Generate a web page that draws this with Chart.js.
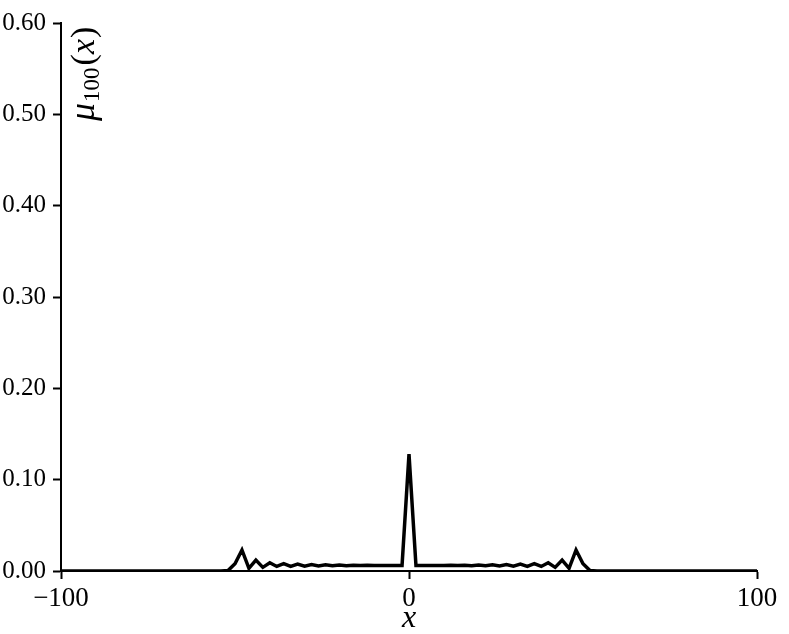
<!DOCTYPE html>
<html lang="en">
<head>
    <meta charset="UTF-8">
    <title>mu_100(x)</title>
    <script src="https://cdn.jsdelivr.net/npm/chart.js"></script>
    <style>
        body {
            margin: 0;
            background: #fff;
        }
        canvas {
            display: block;
        }
    </style>
</head>
<body>
    <canvas id="walkChart" width="789" height="634"></canvas>
    <script>
        // positions on the line (even sites only at t = 100)
        const positions = [
            -100, -98, -96, -94, -92, -90, -88, -86, -84, -82,
            -80, -78, -76, -74, -72, -70, -68, -66, -64, -62,
            -60, -58, -56, -54, -52, -50, -48, -46, -44, -42,
            -40, -38, -36, -34, -32, -30, -28, -26, -24, -22,
            -20, -18, -16, -14, -12, -10, -8, -6, -4, -2,
            0,
            2, 4, 6, 8, 10, 12, 14, 16, 18, 20,
            22, 24, 26, 28, 30, 32, 34, 36, 38, 40,
            42, 44, 46, 48, 50, 52, 54, 56, 58, 60,
            62, 64, 66, 68, 70, 72, 74, 76, 78, 80,
            82, 84, 86, 88, 90, 92, 94, 96, 98, 100
        ];

        // probability
        const probs = [
            0, 0, 0, 0, 0, 0, 0, 0, 0, 0,
            0, 0, 0, 0, 0, 0, 0, 0, 0, 0,
            0, 0, 0, 0, 0.0005, 0.008, 0.023, 0.003, 0.012, 0.004,
            0.009, 0.005, 0.008, 0.005, 0.0075, 0.0052, 0.007, 0.0055, 0.0068, 0.0057,
            0.0065, 0.0058, 0.0063, 0.0059, 0.0062, 0.006, 0.0061, 0.006, 0.006, 0.006,
            0.128,
            0.006, 0.006, 0.006, 0.0061, 0.006, 0.0062, 0.0059, 0.0063, 0.0058, 0.0065,
            0.0057, 0.0068, 0.0055, 0.007, 0.0052, 0.0075, 0.005, 0.008, 0.005, 0.009,
            0.004, 0.012, 0.003, 0.023, 0.008, 0.0005, 0, 0, 0, 0,
            0, 0, 0, 0, 0, 0, 0, 0, 0, 0,
            0, 0, 0, 0, 0, 0, 0, 0, 0, 0
        ];

        const xTicks = [-100, 0, 100];
        const yTicks = [0, 0.1, 0.2, 0.3, 0.4, 0.5, 0.6];

        const serif = '"Liberation Serif", "DejaVu Serif", serif';

        // axis titles drawn by hand (rotated mu with subscript, italic x)
        const titlesPlugin = {
            id: 'titles',
            afterDraw(chart) {
                const ctx = chart.ctx;
                ctx.save();
                ctx.fillStyle = '#000';
                ctx.textBaseline = 'alphabetic';

                // x label
                ctx.font = 'italic 32px ' + serif;
                ctx.textAlign = 'center';
                ctx.fillText('x', (chart.chartArea.left + chart.chartArea.right) / 2, 627);

                // y label, reads bottom to top
                ctx.textAlign = 'left';
                ctx.translate(94, 121);
                ctx.rotate(-Math.PI / 2);
                let pos = 0;
                ctx.font = 'italic 36px ' + serif;
                ctx.fillText('\u03bc', pos, 0);
                pos += ctx.measureText('\u03bc').width + 1;
                ctx.font = '23px ' + serif;
                ctx.fillText('100', pos, 5);
                pos += ctx.measureText('100').width + 2;
                ctx.font = '34px ' + serif;
                ctx.fillText('(', pos, 0);
                pos += ctx.measureText('(').width;
                ctx.font = 'italic 34px ' + serif;
                ctx.fillText('x', pos, 0);
                pos += ctx.measureText('x').width + 1;
                ctx.font = '34px ' + serif;
                ctx.fillText(')', pos, 0);
                ctx.restore();
            }
        };

        const ctxWalk = document.getElementById('walkChart').getContext('2d');
        const walkChart = new Chart(ctxWalk, {
            type: 'line',
            data: {
                labels: positions,
                datasets: [{
                    data: positions.map((p, i) => ({ x: p, y: probs[i] })),
                    borderColor: '#000',
                    borderWidth: 3.5,
                    pointRadius: 0,
                    tension: 0,
                    fill: false
                }]
            },
            options: {
                responsive: false,
                animation: false,
                layout: {
                    padding: { top: 23, right: 32, left: 0, bottom: 0 }
                },
                plugins: {
                    legend: { display: false },
                    tooltip: { enabled: false }
                },
                scales: {
                    x: {
                        type: 'linear',
                        min: -100,
                        max: 100,
                        afterFit: scale => { scale.height = 63; },
                        afterBuildTicks: scale => { scale.ticks = xTicks.map(v => ({ value: v })); },
                        border: { display: true, color: '#000', width: 2 },
                        grid: { drawOnChartArea: false, drawTicks: true, tickLength: 8, tickWidth: 2, tickColor: '#000' },
                        ticks: {
                            color: '#000',
                            padding: 4,
                            maxRotation: 0,
                            font: { family: serif, size: 27 },
                            callback: v => v < 0 ? '\u2212' + Math.abs(v) : String(v)
                        }
                    },
                    y: {
                        min: 0,
                        max: 0.6,
                        afterFit: scale => { scale.width = 61; },
                        afterBuildTicks: scale => { scale.ticks = yTicks.map(v => ({ value: v })); },
                        border: { display: true, color: '#000', width: 2 },
                        grid: { drawOnChartArea: false, drawTicks: true, tickLength: 8, tickWidth: 2, tickColor: '#000' },
                        ticks: {
                            color: '#000',
                            padding: 7,
                            font: { family: serif, size: 25 },
                            callback: v => Number(v).toFixed(2)
                        }
                    }
                }
            },
            plugins: [titlesPlugin]
        });
    </script>
</body>
</html>
